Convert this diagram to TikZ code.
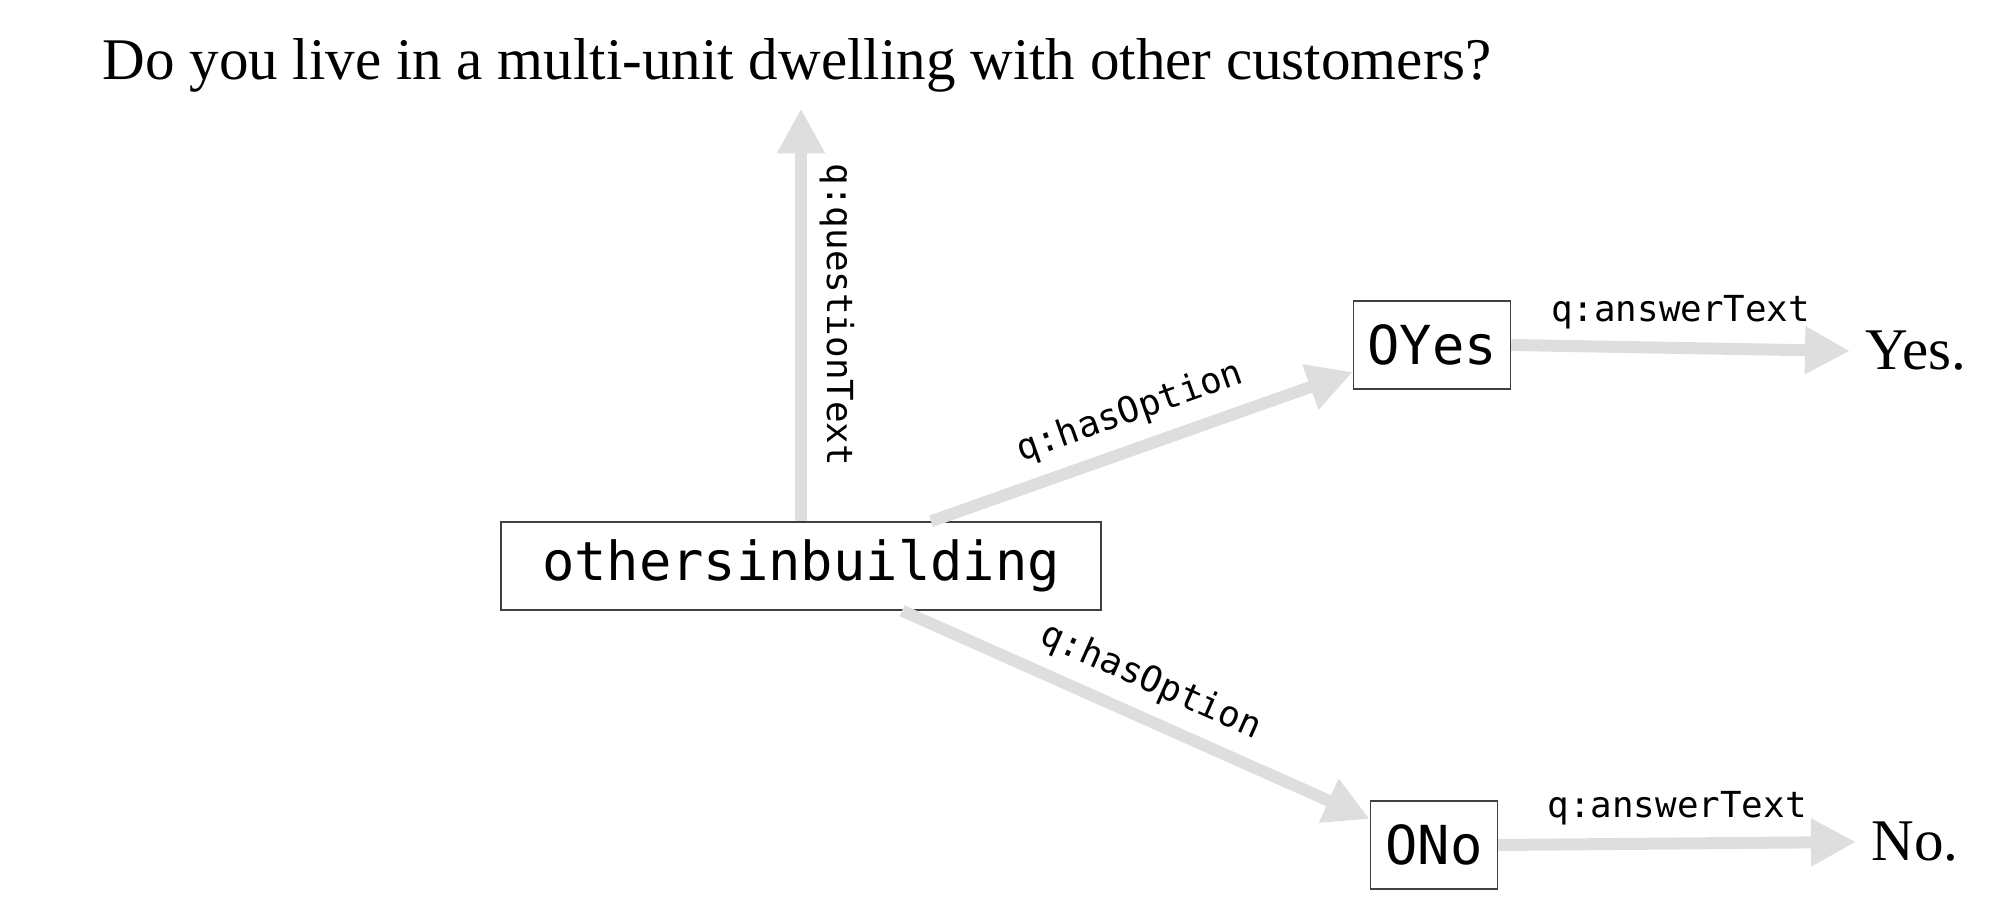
\documentclass[tikz,border=0pt]{standalone}
\usepackage{fontspec}
\setmainfont{Liberation Serif}
\newfontfamily\monofont{DejaVu Sans Mono}
\usetikzlibrary{arrows.meta}

\begin{document}
\begin{tikzpicture}
    \tikzstyle{res}=[draw=black!75, line width=0.4pt, minimum height=0.88cm, inner xsep=0pt, font=\monofont\fontsize{15.3pt}{18pt}\selectfont]
    \tikzstyle{lit}=[inner sep=0.15cm, font=\fontsize{16.8pt}{20pt}\selectfont]
    \tikzstyle{pred}=[draw=black!13, line width=0.12cm, -{Triangle[length=0.45cm, width=0.45cm]}]
    \tikzstyle{plabel}=[outer sep=0.07cm, font=\monofont\fontsize{10.2pt}{12pt}\selectfont]

    \useasboundingbox (0,0) rectangle (20,9.06);

    \node (q)    [lit, anchor=base west] at (0.87,8.26) {Do you live in a multi-unit dwelling with other customers?};
    \node (oib)  [res, minimum width=6cm]    at (8.01,3.40)  {othersinbuilding};
    \node (oyes) [res, minimum width=1.57cm] at (14.32,5.61) {OYes};
    \node (ono)  [res, minimum width=1.27cm] at (14.34,0.61) {ONo};
    \node (yes)  [lit, anchor=west] at (18.50,5.55) {Yes.};
    \node (no)   [lit, anchor=west] at (18.56,0.64) {No.};

    \draw[pred] (oib.north) -- (oib.north |- q.south)
        node[plabel, midway, anchor=south, rotate=-90] {q:questionText};
    \draw[pred] ([xshift=1.30cm]oib.north) -- ([yshift=-0.27cm]oyes.west)
        node[plabel, midway, above, sloped] {q:hasOption};
    \draw[pred] ([xshift=1.01cm]oib.south) -- ([yshift=0.26cm]ono.west)
        node[plabel, midway, above, sloped] {q:hasOption};
    \draw[pred] (oyes.east) -- (yes.west)
        node[plabel, midway, above] {q:answerText};
    \draw[pred] (ono.east) -- (no.west)
        node[plabel, midway, above] {q:answerText};
\end{tikzpicture}
\end{document}
